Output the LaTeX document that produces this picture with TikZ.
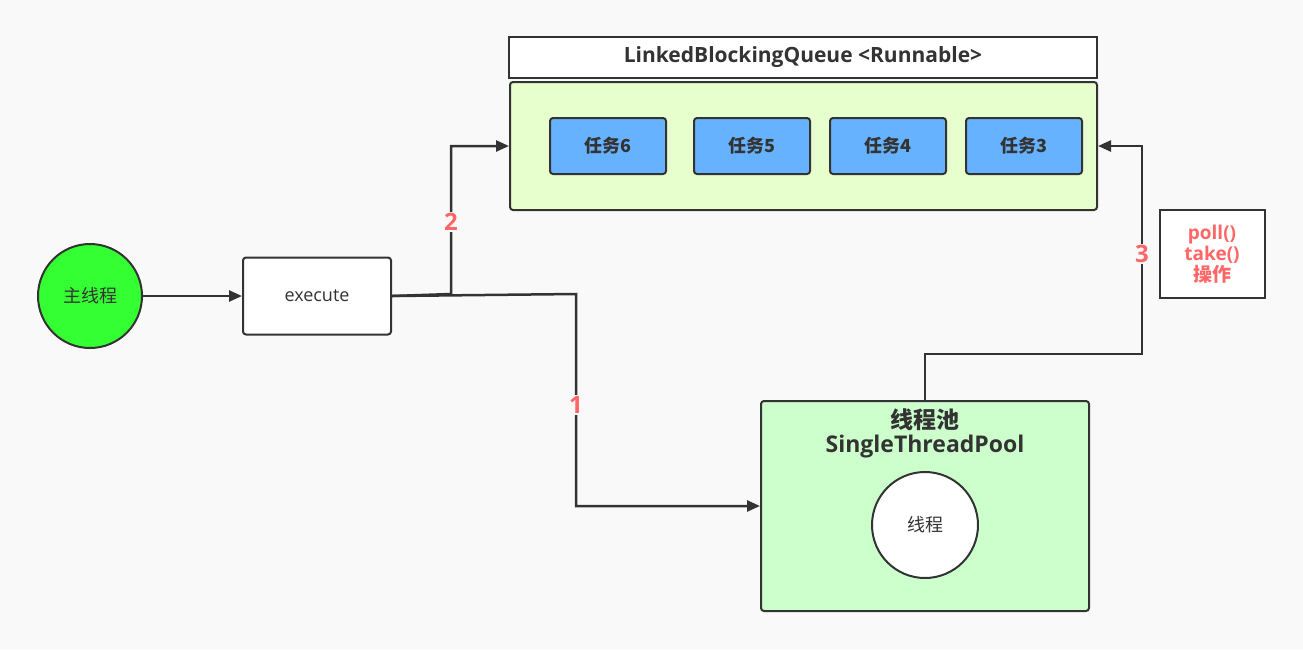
\documentclass[tikz,border=0pt]{standalone}
\usepackage{fontspec}
\setmainfont{Open Sans}
\newfontfamily\cjk{Noto Sans CJK SC}
\usetikzlibrary{arrows.meta, positioning}
\definecolor{line}{HTML}{333333}
\definecolor{numred}{HTML}{FF6666}
\definecolor{taskblue}{HTML}{66B2FF}
\definecolor{bg}{HTML}{F9F9F9}
\tikzset{
  box/.style={draw=line,line width=2pt,rounded corners=3pt,inner sep=0pt},
  task/.style={box,fill=taskblue,minimum width=116pt,minimum height=56pt,text=line,font=\cjk\bfseries\fontsize{18}{20}\selectfont},
  num/.style={font=\bfseries\fontsize{24}{26}\selectfont,text=numred,fill=bg,inner sep=1pt},
  flow/.style={draw=line,line width=2.5pt,-{Triangle[length=13pt,width=11pt]}}
}
\begin{document}
\begin{tikzpicture}[x=1pt,y=-1pt]
    \fill[bg] (0,0) rectangle (1303,649);
    \useasboundingbox (0,0) rectangle (1303,649);
    % main thread and execute
    \node[circle,draw=line,line width=2pt,fill={rgb,255:red,51;green,255;blue,51},minimum size=104pt,text=line,font=\cjk\fontsize{18}{20}\selectfont] (main) at (90,296) {主线程};
    \node[box,fill=white,minimum width=148pt,minimum height=77pt,text=line,font=\fontsize{18}{20}\selectfont] (exec) at (317,296) {execute};
    % queue
    \node[draw=line,line width=2pt,fill=white,minimum width=588pt,minimum height=41pt,text=line,font=\bfseries\fontsize{21}{24}\selectfont] (title) at (803,57) {LinkedBlockingQueue <Runnable>};
    \node[box,fill={rgb,255:red,230;green,255;blue,204},minimum width=587pt,minimum height=128pt] (queue) at (803.5,146) {};
    \node[task] (t6) at (608,146) {任务6};
    \node[task] (t5) at (752,146) {任务5};
    \node[task] (t4) at (888,146) {任务4};
    \node[task] (t3) at (1024,146) {任务3};
    % pool
    \node[box,fill={rgb,255:red,204;green,255;blue,204},minimum width=328pt,minimum height=210pt] (pool) at (925,506) {};
    \node[text=line,font=\cjk\bfseries\fontsize{23}{26}\selectfont,align=center] (ptitle) at (925,433) {线程池\\[-2pt]\rmfamily\bfseries SingleThreadPool};
    \node[circle,draw=line,line width=2pt,fill=white,minimum size=106pt,text=line,font=\cjk\fontsize{18}{20}\selectfont] (th) at (925,525) {线程};
    \node[draw=line,line width=2pt,fill=white,minimum width=105pt,minimum height=88pt,align=center,text=numred,font=\cjk\bfseries\fontsize{19}{21}\selectfont] (ops) at (1212,254) {\rmfamily\bfseries poll()\\\rmfamily\bfseries take()\\操作};
    % connectors
    \draw[flow] (main) -- (exec);
    \draw[flow] (exec.east) -- (451,294) |- (queue.west);
    \draw[flow] (exec.east) -- (576,294) |- (pool.west);
    \draw[flow] (pool.north) |- (1142,354) |- (queue.east);
    \node[num] at (451,222) {2};
    \node[num] at (576,405) {1};
    \node[num] at (1142,254) {3};
\end{tikzpicture}
\end{document}
